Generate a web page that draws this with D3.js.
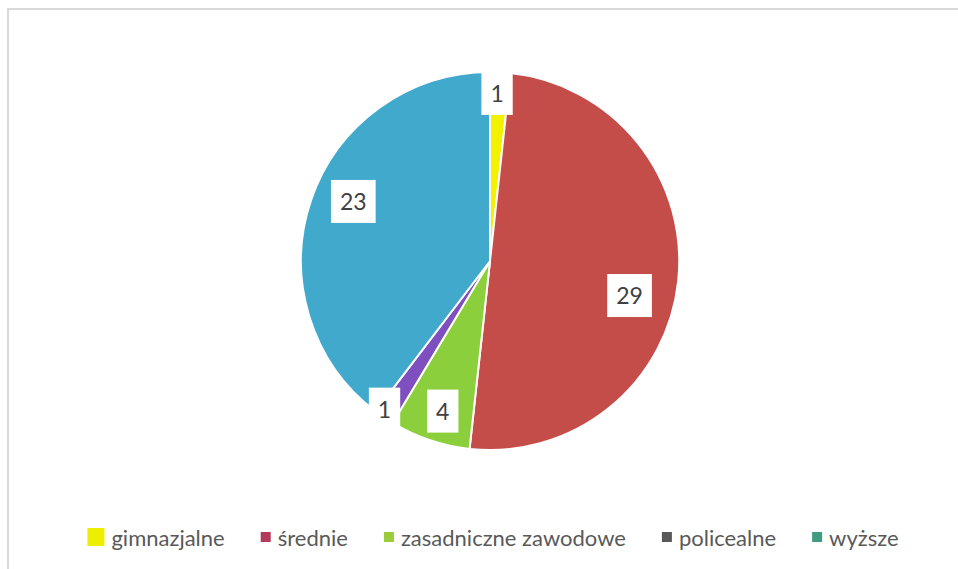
<!DOCTYPE html>
<html><head><meta charset="utf-8">
<script src="https://cdn.jsdelivr.net/npm/d3@7"></script>
<style>
html,body{margin:0;padding:0;background:#fff;}
svg{display:block;}
</style></head>
<body>
<svg id="chart" width="958" height="569"></svg>
<script>
// ---- data ----
const categories = ["gimnazjalne", "średnie", "zasadniczne zawodowe", "policealne", "wyższe"];
const values = [1, 29, 4, 1, 23];
const sliceColors = ["#f2f200", "#c44d4a", "#8ccf3c", "#7d4fbf", "#41a9cb"];
const legendColors = ["#eeee00", "#b23a5c", "#9acb3c", "#595959", "#3f9c80"];
// label placement tweaks (fraction of radius, angle shift in degrees) mimicking Excel "best fit"
const labelRadius = [0.89, 0.76, 0.83, 0.96, 0.79];
const labelAngleShift = [-0.7, 7.5, -1.1, 1.4, 5.1];

const W = 958, H = 569;
const cx = 490, cy = 261, R = 189;
const svg = d3.select("#chart");

// frame
svg.append("path").attr("d", `M8,${H} V9 H${W}`).attr("fill", "none")
  .attr("stroke", "#d9d9d9").attr("stroke-width", 2);

const pie = d3.pie().sort(null).value(d => d)(values);
const arc = d3.arc().innerRadius(0).outerRadius(R);
const g = svg.append("g").attr("transform", `translate(${cx},${cy})`);
g.selectAll("path.slice").data(pie).join("path")
  .attr("class", "slice")
  .attr("d", arc)
  .attr("fill", (d, i) => sliceColors[i])
  .attr("stroke", "#fff").attr("stroke-width", 2).attr("stroke-linejoin", "round");

// labels
const lbl = g.selectAll("g.lbl").data(pie).join("g").attr("class", "lbl")
  .attr("transform", (d, i) => {
    const a = (d.startAngle + d.endAngle) / 2 + labelAngleShift[i] * Math.PI / 180;
    const r = R * labelRadius[i];
    return `translate(${r * Math.sin(a)},${-r * Math.cos(a)})`;
  });
lbl.append("text")
  .attr("text-anchor", "middle").attr("dominant-baseline", "central")
  .attr("font-family", "Lato, 'Open Sans', sans-serif").attr("font-size", 23)
  .attr("fill", "#404040").text(d => d.data);
lbl.each(function() {
  const t = d3.select(this).select("text").node();
  const w = t.getComputedTextLength();
  d3.select(this).insert("rect", "text")
    .attr("x", -w / 2 - 9).attr("y", -21).attr("width", w + 18).attr("height", 43)
    .attr("fill", "#fff");
});

// legend
const legend = svg.append("g");
const items = legend.selectAll("g").data(categories).join("g");
items.append("text")
  .attr("font-family", "Lato, 'Open Sans', sans-serif").attr("font-size", 22)
  .attr("fill", "#595959").attr("dominant-baseline", "central")
  .text(d => d);
let x = 0;
const gap = 36;
items.each(function(d, i) {
  const t = d3.select(this).select("text");
  const w = t.node().getComputedTextLength();
  const mw = i === 0 ? 17 : 10, mh = i === 0 ? 18 : 10;
  d3.select(this).insert("rect", "text")
    .attr("x", x).attr("y", -mh / 2).attr("width", mw).attr("height", mh)
    .attr("fill", legendColors[i]);
  t.attr("x", x + mw + 7);
  x += mw + 7 + w + gap;
});
const total = x - gap;
legend.attr("transform", `translate(${493 - total / 2},537)`);
</script>
</body></html>
